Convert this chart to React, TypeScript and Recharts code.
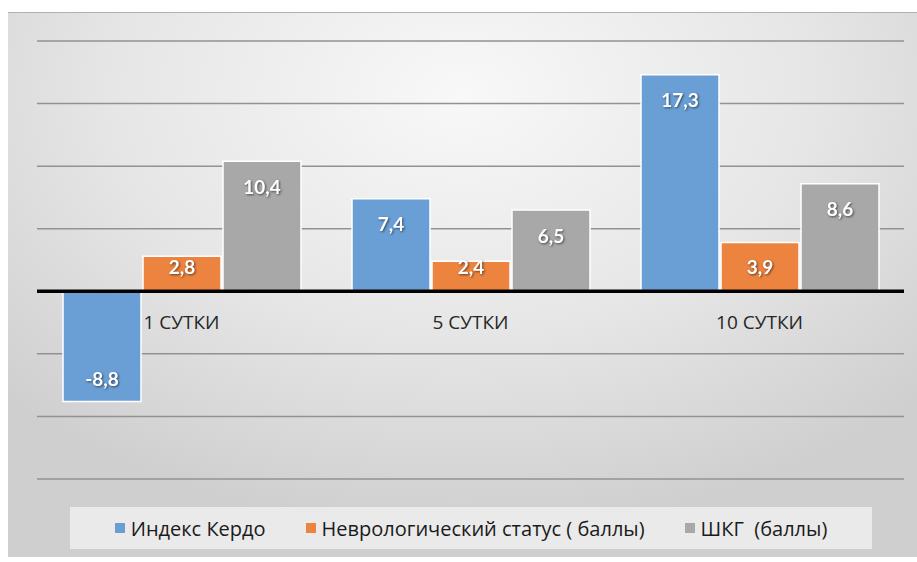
import { Bar, BarChart, CartesianGrid, LabelList, ReferenceLine, XAxis, YAxis } from "recharts";

const DAYS = ["1 СУТКИ", "5 СУТКИ", "10 СУТКИ"];
const KERDO = [-8.8, 7.4, 17.3];
const NEURO = [2.8, 2.4, 3.9];
const SHKG = [10.4, 6.5, 8.6];
const Y_TICKS = [-15, -10, -5, 0, 5, 10, 15, 20];

const SERIES = [
  { key: "kerdo", name: "Индекс Кердо", color: "#6a9fd6", values: KERDO },
  { key: "neuro", name: "Неврологический статус ( баллы)", color: "#ec8440", values: NEURO },
  { key: "shkg", name: "ШКГ  (баллы)", color: "#a8a8a8", values: SHKG },
];

const data = DAYS.map((day, i) => {
  const row: Record<string, string | number> = { day };
  SERIES.forEach((s) => (row[s.key] = s.values[i]));
  return row;
});

const W = 909;
const H = 545;
const X_AXIS_H = 20;
const MARGIN = { top: 28, right: 13, left: 29, bottom: 79 - X_AXIS_H };
const PLOT_H = H - MARGIN.top - MARGIN.bottom - X_AXIS_H;
const Y_MIN = Y_TICKS[0];
const Y_MAX = Y_TICKS[Y_TICKS.length - 1];
const ZERO_Y = MARGIN.top + (PLOT_H * Y_MAX) / (Y_MAX - Y_MIN);
const LABEL_FONT = "Lato, 'Open Sans', sans-serif";
const TEXT_FONT = "'Open Sans', sans-serif";

function DayTick(props: any) {
  const { x, payload } = props;
  return (
    <text x={x} y={ZERO_Y + 38} textAnchor="middle" fontSize={19} fill="#262626" fontFamily={TEXT_FONT}>
      {payload.value}
    </text>
  );
}

function ValueLabel(props: any) {
  const { x, y, width, height, value } = props;
  const top = Math.min(y, y + height);
  const bottom = Math.max(y, y + height);
  const cy = value >= 0 ? Math.min(top + 26, bottom - 24) : Math.max(bottom - 22, top + 24);
  return (
    <text
      x={x + width / 2}
      y={cy}
      dy="0.35em"
      textAnchor="middle"
      fontSize={19}
      fontWeight="bold"
      fill="#fff"
      fontFamily={LABEL_FONT}
      style={{ filter: "drop-shadow(1px 1px 1px rgba(0,0,0,0.55))" }}
    >
      {String(value).replace(".", ",")}
    </text>
  );
}

export default function App() {
  return (
    <div
      style={{
        position: "absolute",
        left: 8,
        top: 12,
        width: W,
        height: H,
        borderTop: "1px solid #b0b0b0",
        boxSizing: "border-box",
        background: "radial-gradient(ellipse 70% 80% at 50% 15%, #f8f8f8 0%, #e6e6e6 55%, #cfcfcf 100%)",
      }}
    >
      <BarChart width={W} height={H} data={data} margin={MARGIN} barCategoryGap="9%" barGap={2}>
        <CartesianGrid vertical={false} stroke="#929292" strokeWidth={1.5} />
        <XAxis dataKey="day" axisLine={false} tickLine={false} height={X_AXIS_H} tick={<DayTick />} interval={0} />
        <YAxis hide domain={[Y_MIN, Y_MAX]} ticks={Y_TICKS} />
        {SERIES.map((s) => (
          <Bar key={s.key} dataKey={s.key} name={s.name} fill={s.color} stroke="#fff" strokeWidth={1.5} isAnimationActive={false}>
            <LabelList dataKey={s.key} content={<ValueLabel />} />
          </Bar>
        ))}
        <ReferenceLine y={0} stroke="#000" strokeWidth={3.5} />
      </BarChart>
      <div
        style={{
          position: "absolute",
          left: 62,
          top: 494,
          width: 802,
          height: 42,
          background: "rgba(245,245,245,0.7)",
          display: "flex",
          alignItems: "center",
          justifyContent: "center",
          gap: 40,
          fontFamily: TEXT_FONT,
          fontSize: 20,
          color: "#1a1a1a",
        }}
      >
        {SERIES.map((s) => (
          <div key={s.key} style={{ display: "flex", alignItems: "center", gap: 6, whiteSpace: "pre" }}>
            <span style={{ width: 10, height: 10, background: s.color, display: "inline-block" }} />
            <span>{s.name}</span>
          </div>
        ))}
      </div>
    </div>
  );
}
